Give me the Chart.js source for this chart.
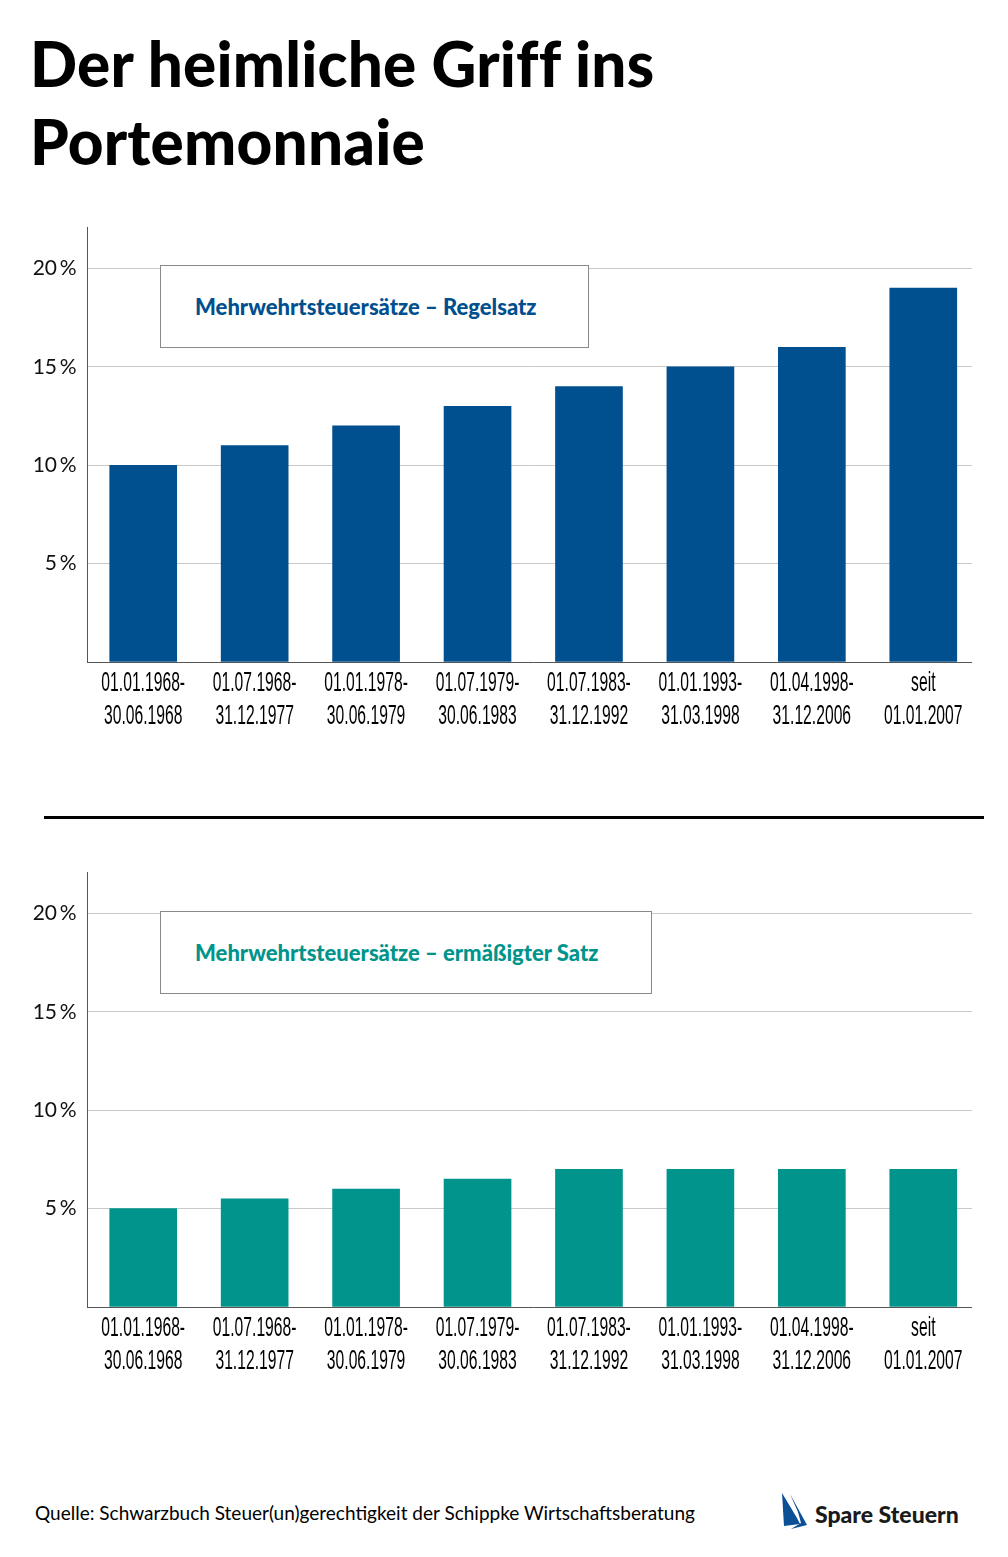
<!DOCTYPE html>
<html>
<head>
<meta charset="utf-8">
<script src="https://cdn.jsdelivr.net/npm/chart.js@4/dist/chart.umd.min.js"></script>
<style>
  html, body { margin: 0; padding: 0; background: #fff; }
  body { position: relative; width: 1008px; height: 1557px; overflow: hidden; font-family: Lato, sans-serif; color: #000; }
  h1 { position: absolute; left: 30px; top: 24px; margin: 0; font: 900 62px/78px Lato, sans-serif; letter-spacing: 0.2px; }
  /* the bands run on past the end of the grid lines, so the last few px are cut off */
  canvas { position: absolute; left: 0; clip-path: inset(0 7px 0 0); }
  #chartRegel { top: 204px; }
  #chartErm { top: 849px; }
  .legend { position: absolute; left: 160px; height: 83px; box-sizing: border-box; border: 1px solid #8a8a8a; background: #fff; font: 900 22px/81px Lato, sans-serif; padding-left: 34px; white-space: nowrap; }
  #legendRegel { top: 265px; width: 429px; color: #004f8f; }
  #legendErm { top: 911px; width: 492px; color: #00948c; }
  #divider { position: absolute; left: 44px; top: 816px; width: 940px; height: 3px; background: #000; }
  #source { position: absolute; left: 35px; top: 1500px; font: 400 19px/26px Lato, sans-serif; white-space: nowrap; }
  #brand { position: absolute; left: 815px; top: 1499px; font: 900 23px/30px Lato, sans-serif; color: #1a1a1a; white-space: nowrap; }
  #sails { position: absolute; left: 780px; top: 1492px; }
</style>
</head>
<body>
<h1>Der heimliche Griff ins<br>Portemonnaie</h1>

<canvas id="chartRegel"></canvas>
<div class="legend" id="legendRegel">Mehrwehrtsteuersätze – Regelsatz</div>

<div id="divider"></div>

<canvas id="chartErm"></canvas>
<div class="legend" id="legendErm">Mehrwehrtsteuersätze – ermäßigter Satz</div>

<div id="source">Quelle: Schwarzbuch Steuer(un)gerechtigkeit der Schippke Wirtschaftsberatung</div>
<svg id="sails" width="30" height="38" viewBox="0 0 30 38">
  <path d="M2 1 L17 26 L20 32 L4 34 Z" fill="#0b4f96"/>
  <path d="M10 2 L27 33 L11 37 L21 31 L18 20 Z" fill="#0b4f96"/>
</svg>
<div id="brand">Spare Steuern</div>

<script>
const periods = [
  ['01.01.1968-', '30.06.1968'],
  ['01.07.1968-', '31.12.1977'],
  ['01.01.1978-', '30.06.1979'],
  ['01.07.1979-', '30.06.1983'],
  ['01.07.1983-', '31.12.1992'],
  ['01.01.1993-', '31.03.1998'],
  ['01.04.1998-', '31.12.2006'],
  ['seit', '01.01.2007'],
];
const regelsatz = [10, 11, 12, 13, 14, 15, 16, 19];
const ermaessigt = [5, 5.5, 6, 6.5, 7, 7, 7, 7];
const percentTicks = [0, 5, 10, 15, 20];

// chart.js has no squeezed tick labels, so the two line period labels are drawn here
const periodLabels = {
  id: 'periodLabels',
  afterDraw(chart) {
    const ctx = chart.ctx;
    const xScale = chart.scales.x;
    const bottom = chart.chartArea.bottom;
    ctx.save();
    ctx.fillStyle = '#000';
    ctx.font = '28px "Liberation Sans Narrow", "Liberation Sans", sans-serif';
    ctx.textAlign = 'center';
    ctx.textBaseline = 'middle';
    periods.forEach((lines, i) => {
      lines.forEach((line, j) => {
        ctx.save();
        ctx.translate(xScale.getPixelForValue(i), bottom + 21 + j * 33.5);
        ctx.scale(0.56, 1);
        ctx.fillText(line, 0, 0);
        ctx.restore();
      });
    });
    ctx.restore();
  },
};

function makeChart(id, values, color) {
  const canvas = document.getElementById(id);
  canvas.width = 979;
  canvas.height = 560;
  canvas.style.width = '979px';
  canvas.style.height = '560px';
  return new Chart(canvas, {
    type: 'bar',
    data: {
      labels: periods.map((p) => p.join(' ')),
      datasets: [{ data: values, backgroundColor: color, barThickness: 67 }],
    },
    plugins: [periodLabels],
    options: {
      responsive: false,
      animation: false,
      layout: { padding: { top: 17, bottom: 94 } },
      plugins: { legend: { display: false }, tooltip: { enabled: false } },
      scales: {
        x: {
          grid: { display: false },
          border: { color: '#555', width: 1 },
          ticks: { display: false },
        },
        y: {
          min: 0,
          max: 22.08,
          afterFit(scale) {
            scale.width = 87.5;
          },
          afterBuildTicks(scale) {
            scale.ticks = percentTicks.map((value) => ({ value }));
          },
          grid: { color: '#c9c9c9', lineWidth: 1, drawTicks: false },
          border: { color: '#555', width: 1 },
          ticks: {
            padding: 11,
            color: '#111',
            font: { family: 'Lato, sans-serif', size: 21 },
            callback: (v) => (v === 0 ? '' : `${v}\u2009%`),
          },
        },
      },
    },
  });
}

makeChart('chartRegel', regelsatz, '#004f8f');
makeChart('chartErm', ermaessigt, '#00948c');
</script>
</body>
</html>
